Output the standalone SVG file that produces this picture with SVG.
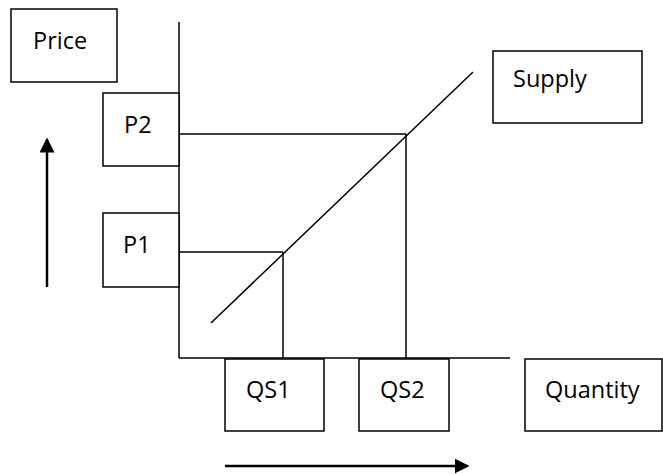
<svg xmlns="http://www.w3.org/2000/svg" width="663" height="474" viewBox="0 0 663 474">
<style>
.box{fill:#fff;stroke:#000;stroke-width:1.5}
.ln{fill:none;stroke:#000;stroke-width:1.5}
.arr{fill:none;stroke:#000;stroke-width:2.5}
text{font-family:"Open Sans","Noto Sans","Liberation Sans",sans-serif;font-size:23.5px;fill:#000}
</style>
<defs>
<marker id="ah" markerWidth="6" markerHeight="6" refX="5" refY="3" orient="auto" markerUnits="strokeWidth">
<path d="M0,0 L6,3 L0,6 z" fill="#000"/>
</marker>
</defs>
<rect width="663" height="474" fill="#fff"/>
<g id="connectors">
<line class="ln" x1="179" y1="22" x2="179" y2="358"/>
<line class="ln" x1="179" y1="358" x2="510" y2="358"/>
<line class="ln" x1="179" y1="134" x2="406" y2="134"/>
<line class="ln" x1="406" y1="134" x2="406" y2="358"/>
<line class="ln" x1="179" y1="252" x2="283" y2="252"/>
<line class="ln" x1="283" y1="252" x2="283" y2="358"/>
<line class="ln" x1="211" y1="323" x2="473" y2="72"/>
<line class="arr" x1="47" y1="287" x2="47" y2="140" marker-end="url(#ah)"/>
<line class="arr" x1="225" y1="466" x2="467" y2="466" marker-end="url(#ah)"/>
</g>
<g id="price"><rect class="box" x="11" y="9" width="106" height="73"/><text x="33" y="49">Price</text></g>
<g id="p2"><rect class="box" x="103" y="93" width="76" height="73"/><text x="124" y="133">P2</text></g>
<g id="p1"><rect class="box" x="103" y="213" width="76" height="74"/><text x="123" y="253">P1</text></g>
<g id="supply"><rect class="box" x="493" y="51" width="149" height="72"/><text x="513" y="87">Supply</text></g>
<g id="qs1"><rect class="box" x="225" y="359" width="99" height="72"/><text x="246" y="398">QS1</text></g>
<g id="qs2"><rect class="box" x="359" y="359" width="90" height="72"/><text x="380" y="398">QS2</text></g>
<g id="quantity"><rect class="box" x="525" y="359" width="137" height="72"/><text x="545" y="398">Quantity</text></g>
</svg>
